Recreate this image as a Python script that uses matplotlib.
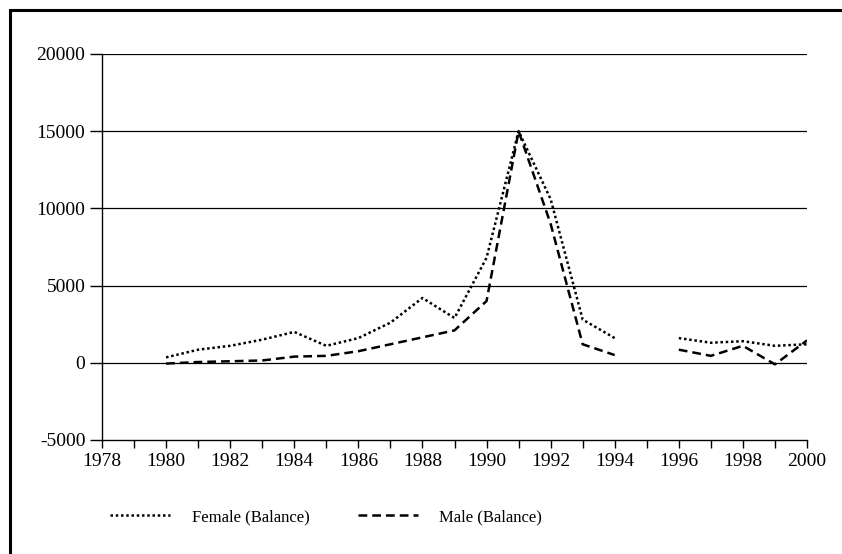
import numpy as np
import matplotlib
matplotlib.use("Agg")
import matplotlib.pyplot as plt
from matplotlib.patches import Rectangle

years = list(range(1980, 2001))
female = [350, 850, 1100, 1500, 2000, 1100, 1600, 2600, 4200, 2900, 6800, 15000,
          10600, 2800, 1600, np.nan, 1600, 1300, 1400, 1100, 1200]
male = [-50, 50, 100, 150, 400, 450, 750, 1200, 1650, 2100, 4000, 15000,
        9000, 1200, 500, np.nan, 850, 450, 1100, -100, 1450]
labels = ["Female (Balance)", "Male (Balance)"]
yticks = [-5000, 0, 5000, 10000, 15000, 20000]

plt.rcParams['font.family'] = ['Liberation Serif', 'DejaVu Serif']
fig = plt.figure(figsize=(8.42, 5.54), dpi=100)
ax = fig.add_axes([102/842, 1-440/554, 705/842, 386/554])

ax.plot(years, female, color='black', lw=1.8, linestyle=(0, (1, 1.1)), label=labels[0])
ax.plot(years, male, color='black', lw=1.8, linestyle=(0, (3.5, 2.0)), label=labels[1])

ax.set_xlim(1978, 2000)
ax.set_ylim(-5000, 20000)
ax.set_yticks(yticks)
ax.set_yticklabels([str(v) for v in yticks])
ax.set_xticks(range(1978, 2001, 2))
ax.set_xticks(range(1979, 2000, 2), minor=True)
for v in yticks[1:]:
    ax.axhline(v, color='black', lw=0.9, zorder=0)
for s in ['top', 'right']:
    ax.spines[s].set_visible(False)
for s in ['left', 'bottom']:
    ax.spines[s].set_linewidth(1.0)
ax.tick_params(axis='y', direction='out', length=9, width=1.0, labelsize=14, pad=3)
ax.tick_params(axis='x', which='both', direction='out', length=6, width=1.0, labelsize=14, pad=3)

leg = ax.legend(loc='upper left', bbox_to_anchor=(95/842, 1-494/554), bbox_transform=fig.transFigure,
                ncol=2, frameon=False, fontsize=12, handlelength=3.6, handletextpad=1.3,
                columnspacing=2.9)

fig.patches.append(Rectangle((10/842, -0.05), 1.0, 1-9.5/554+0.05, transform=fig.transFigure,
                             fill=False, edgecolor='black', lw=2.2, clip_on=False))
fig.savefig('out.png', dpi=100)
